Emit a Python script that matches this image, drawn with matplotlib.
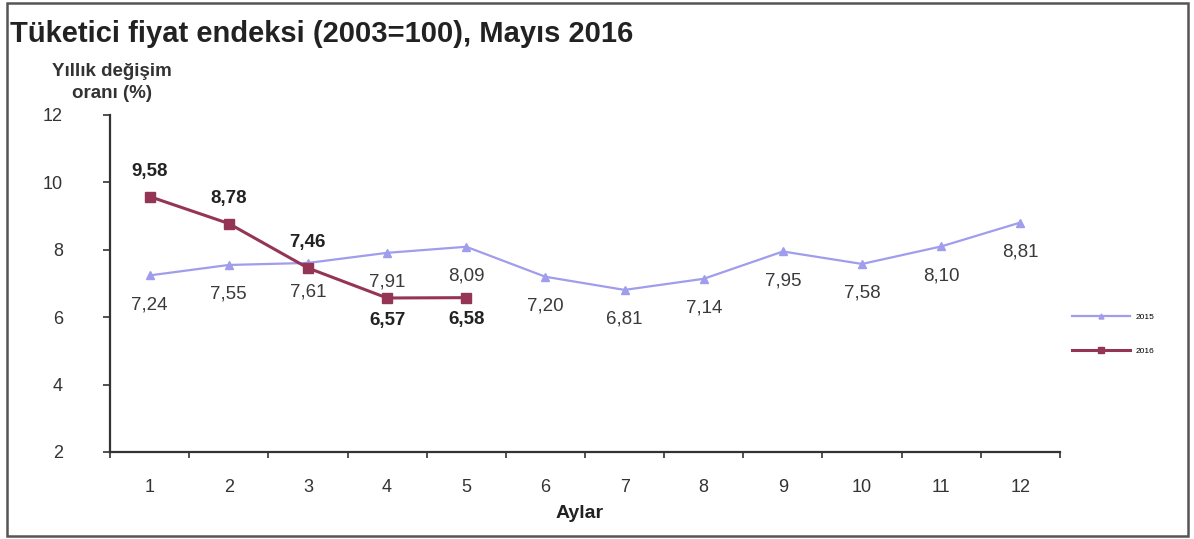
import matplotlib
matplotlib.use('Agg')
import matplotlib.pyplot as plt
from matplotlib.patches import Rectangle

plt.rcParams['font.family'] = ['Liberation Sans', 'DejaVu Sans']

months = list(range(1, 13))
tick_labels = [str(m) for m in months]
cpi_2015 = [7.24, 7.55, 7.61, 7.91, 8.09, 7.20, 6.81, 7.14, 7.95, 7.58, 8.10, 8.81]
cpi_2016 = [9.58, 8.78, 7.46, 6.57, 6.58]
# label side for 2016 values: +1 above, -1 below
side_2016 = [1, 1, 1, -1, -1]

c15 = '#9f9dec'
c16 = '#953555'


def fmt(v):
    return ('%.2f' % v).replace('.', ',')


def main():
    W, H = 1194, 539
    fig = plt.figure(figsize=(W / 100, H / 100), dpi=100)

    # outer frame
    fig.patches.append(Rectangle((7 / W, 3 / H), 1181 / W, 533 / H,
                                 transform=fig.transFigure, fill=False,
                                 edgecolor='#555555', linewidth=1.8))

    ax = fig.add_axes([110 / W, 1 - 452 / H, 950 / W, 337 / H])

    ax.plot(months, cpi_2015, color=c15, linewidth=1.6, marker='^',
            markersize=6, label='2015')
    ax.plot(months[:len(cpi_2016)], cpi_2016, color=c16, linewidth=2.2,
            marker='s', markersize=7, label='2016')

    for m, v in zip(months, cpi_2015):
        ax.annotate(fmt(v), (m, v), xytext=(0, -21), textcoords='offset points',
                    ha='center', va='center', fontsize=13.5, color='#3a3a3a')
    for m, v, s in zip(months, cpi_2016, side_2016):
        ax.annotate(fmt(v), (m, v), xytext=(0, 18 if s > 0 else -16),
                    textcoords='offset points', ha='center', va='center',
                    fontsize=13.5, fontweight='bold', color='#222222')

    ax.set_xlim(0.5, 12.5)
    ax.set_ylim(2, 12)
    ax.set_yticks([2, 4, 6, 8, 10, 12])
    ax.set_xticks(months)
    ax.set_xticklabels(tick_labels)
    ax.set_xticks([m + 0.5 for m in [0] + months], minor=True)
    ax.tick_params(axis='x', which='major', length=0, pad=19.5,
                   labelsize=13, labelcolor='#333333')
    ax.tick_params(axis='x', which='minor', length=4.5, width=1.2,
                   direction='out', color='#333333')
    ax.tick_params(axis='y', length=5, width=1.2, pad=29, labelsize=13,
                   labelcolor='#333333', color='#333333')

    for s in ['top', 'right']:
        ax.spines[s].set_visible(False)
    for s in ['left', 'bottom']:
        ax.spines[s].set_linewidth(1.6)
        ax.spines[s].set_color('#333333')

    ax.legend(loc='center left', bbox_to_anchor=(1.008, 0.35), frameon=False,
              fontsize=6, handlelength=7, labelspacing=3.2, borderpad=0,
              handletextpad=0.6, markerscale=0.6)

    fig.text(10 / W, 1 - 42 / H, 'Tüketici fiyat endeksi (2003=100), Mayıs 2016',
             fontsize=21, fontweight='bold', color='#222222', va='baseline')
    fig.text(112 / W, 1 - 76 / H, 'Yıllık değişim', fontsize=13.5,
             fontweight='bold', color='#333333', va='baseline', ha='center')
    fig.text(112 / W, 1 - 98 / H, 'oranı (%)', fontsize=13.5,
             fontweight='bold', color='#333333', va='baseline', ha='center')
    fig.text(580 / W, 1 - 513 / H, 'Aylar', fontsize=14, fontweight='bold',
             color='#222222', va='center', ha='center')

    fig.savefig('out.png', dpi=100)


if __name__ == '__main__':
    main()
